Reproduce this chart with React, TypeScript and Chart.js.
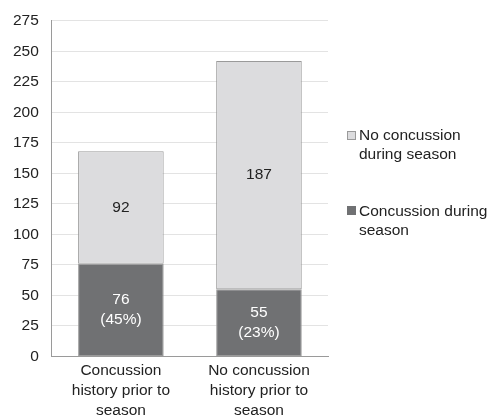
import React, { useEffect, useRef } from "react";
import { Chart, registerables } from "chart.js";

Chart.register(...registerables);

const categories: string[][] = [
  ["Concussion", "history prior to", "season"],
  ["No concussion", "history prior to", "season"],
];
const concussionDuring = [76, 55];
const noConcussionDuring = [92, 187];
const concussionPct = ["(45%)", "(23%)"];
const legendLabels = [
  ["No concussion", "during season"],
  ["Concussion during", "season"],
];
const yMax = 275;
const yStep = 25;

const DARK = "#707173";
const LIGHT = "#dcdcde";
const BORDER = "#9a9a9a";
const TEXT = "#222222";
const FONT = "'Liberation Sans', Arial, sans-serif";
const FS = 15.5;

const labelPlugin = {
  id: "segLabels",
  afterDatasetsDraw(chart: any) {
    const ctx = chart.ctx;
    ctx.save();
    ctx.font = `${FS}px ${FONT}`;
    ctx.textAlign = "center";
    ctx.textBaseline = "middle";
    const lh = 19.5;
    chart.data.datasets.forEach((ds: any, di: number) => {
      const meta = chart.getDatasetMeta(di);
      meta.data.forEach((bar: any, i: number) => {
        const cy = (bar.y + bar.base) / 2;
        let lines: string[];
        if (di === 0) {
          lines = [String(ds.data[i]), concussionPct[i]];
          ctx.fillStyle = "#ffffff";
        } else {
          lines = [String(ds.data[i])];
          ctx.fillStyle = TEXT;
        }
        const start = cy - ((lines.length - 1) * lh) / 2;
        lines.forEach((t, k) => ctx.fillText(t, bar.x, start + k * lh));
      });
    });
    ctx.restore();
  },
};

export default function App() {
  const ref = useRef<HTMLCanvasElement | null>(null);
  useEffect(() => {
    if (!ref.current) return;
    const chart = new Chart(ref.current, {
      type: "bar",
      data: {
        labels: categories as any,
        datasets: [
          {
            label: legendLabels[1].join(" "),
            data: concussionDuring,
            backgroundColor: DARK,
            borderColor: BORDER,
            borderWidth: 1,
            borderSkipped: false,
            barPercentage: 0.62,
            categoryPercentage: 1,
          },
          {
            label: legendLabels[0].join(" "),
            data: noConcussionDuring,
            backgroundColor: LIGHT,
            borderColor: BORDER,
            borderWidth: 1,
            borderSkipped: false,
            barPercentage: 0.62,
            categoryPercentage: 1,
          },
        ],
      },
      options: {
        responsive: false,
        animation: false,
        devicePixelRatio: 1,
        layout: { padding: { left: 0, right: 164, top: 18, bottom: 0 } },
        plugins: {
          legend: { display: false },
          tooltip: { enabled: false },
        },
        scales: {
          x: {
            stacked: true,
            grid: { display: false, drawTicks: false },
            border: { color: BORDER, width: 1 },
            ticks: {
              color: TEXT,
              padding: 5,
              maxRotation: 0,
              font: { family: FONT, size: FS, lineHeight: 1.26 },
            },
          },
          y: {
            stacked: true,
            min: 0,
            max: yMax,
            grid: { color: "#e3e3e3", drawTicks: false },
            border: { color: BORDER, width: 1 },
            ticks: {
              stepSize: yStep,
              color: TEXT,
              padding: 13,
              font: { family: FONT, size: FS, lineHeight: 1 },
            },
          },
        },
      },
      plugins: [labelPlugin],
    });
    return () => chart.destroy();
  }, []);

  const textStyle: React.CSSProperties = {
    position: "absolute",
    left: 359,
    fontFamily: FONT,
    fontSize: FS,
    lineHeight: "19px",
    color: TEXT,
    whiteSpace: "nowrap",
  };

  return (
    <div style={{ position: "fixed", left: 0, top: 0, width: 492, height: 415, background: "#fff", overflow: "hidden" }}>
      <canvas ref={ref} width={492} height={425} style={{ display: "block" }} />
      <div
        style={{
          position: "absolute",
          left: 347,
          top: 131,
          width: 7,
          height: 7,
          background: LIGHT,
          border: `1px solid ${BORDER}`,
        }}
      />
      <div style={{ ...textStyle, top: 124.5 }}>
        {legendLabels[0][0]}
        <br />
        {legendLabels[0][1]}
      </div>
      <div
        style={{
          position: "absolute",
          left: 347,
          top: 206,
          width: 9,
          height: 9,
          background: DARK,
        }}
      />
      <div style={{ ...textStyle, top: 200.5 }}>
        {legendLabels[1][0]}
        <br />
        {legendLabels[1][1]}
      </div>
    </div>
  );
}
